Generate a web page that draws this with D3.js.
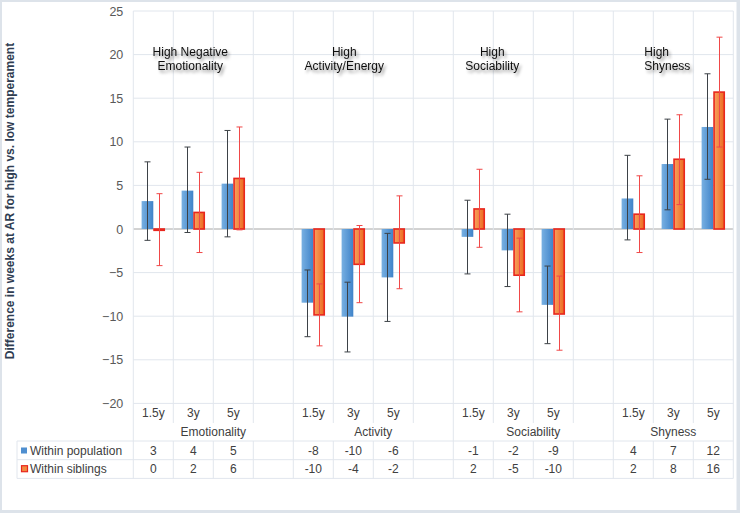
<!DOCTYPE html>
<html>
<head>
<meta charset="utf-8">
<script src="https://cdn.jsdelivr.net/npm/d3@7/dist/d3.min.js"></script>
<style>
  html, body { margin: 0; padding: 0; background: #fff; }
  svg { display: block; font-family: "Liberation Sans", Arial, sans-serif; }
</style>
</head>
<body>
<svg id="chart" width="740" height="513"></svg>
<script>
// ---------------- DATA ----------------
const groups = ["Emotionality", "Activity", "Sociability", "Shyness"];
const ages = ["1.5y", "3y", "5y"];
const yTicks = [-20, -15, -10, -5, 0, 5, 10, 15, 20, 25];
const seriesNames = ["Within population", "Within siblings"];

// bar values
const popValues = [3.2, 4.4, 5.2, -8.45, -10.05, -5.55, -0.9, -2.45, -8.7, 3.5, 7.45, 11.7];
const sibValues = [-0.15, 1.9, 5.8, -9.85, -4.05, -1.6, 2.3, -5.3, -9.75, 1.7, 8.0, 15.7];
// error-bar extents
const popLow  = [-1.3, -0.4, -0.9, -12.35, -14.1, -10.6, -5.15, -6.6, -13.15, -1.25, 2.2, 5.7];
const popHigh = [7.7, 9.4, 11.3, -4.7, -6.1, -0.5, 3.3, 1.7, -4.25, 8.45, 12.6, 17.8];
const sibLow  = [-4.2, -2.7, -0.1, -13.4, -8.45, -6.85, -2.1, -9.5, -13.9, -2.7, 2.8, 9.4];
const sibHigh = [4.05, 6.5, 11.7, -6.3, 0.4, 3.8, 6.85, -1.05, -5.4, 6.1, 13.1, 22.0];
// data-table (rounded) values
const tablePop = [3, 4, 5, -8, -10, -6, -1, -2, -9, 4, 7, 12];
const tableSib = [0, 2, 6, -10, -4, -2, 2, -5, -10, 2, 8, 16];
// annotation labels
const annotations = [
  ["High Negative", "Emotionality"],
  ["High", "Activity/Energy"],
  ["High", "Sociability"],
  ["High", "Shyness"]
];

// ---------------- LAYOUT ----------------
const W = 740, H = 513;
const plotLeft = 133.3, plotRight = 733.3;
const nCols = groups.length * 4 - 1;
const svg = d3.select("#chart");

const x = d3.scaleBand().domain(d3.range(nCols)).range([plotLeft, plotRight]).padding(0);
const y = d3.scaleLinear().domain([-20, 25]).range([403.4, 11]);
const bw = x.bandwidth();
const barW = 11.7;

const colOf = i => Math.floor(i / 3) * 4 + (i % 3);

// defs
const defs = svg.append("defs");
const gb = defs.append("linearGradient").attr("id", "gBlue").attr("x1", 0).attr("x2", 1).attr("y1", 0).attr("y2", 0);
gb.append("stop").attr("offset", "0%").attr("stop-color", "#78b0e2");
gb.append("stop").attr("offset", "100%").attr("stop-color", "#3f83c9");
const go = defs.append("linearGradient").attr("id", "gOrange").attr("x1", 0).attr("x2", 1).attr("y1", 0).attr("y2", 0);
go.append("stop").attr("offset", "0%").attr("stop-color", "#f8a060");
go.append("stop").attr("offset", "100%").attr("stop-color", "#ec6a1e");
const f = defs.append("filter").attr("id", "shadow").attr("x", "-20%").attr("y", "-30%").attr("width", "150%").attr("height", "180%");
f.append("feDropShadow").attr("dx", 2).attr("dy", 2.5).attr("stdDeviation", 1.6)
  .attr("flood-color", "#000").attr("flood-opacity", 0.45);

// frame
svg.append("rect").attr("x", 0).attr("y", 0).attr("width", W).attr("height", H).attr("fill", "#dde3ea");
svg.append("rect").attr("x", 2).attr("y", 2).attr("width", W - 5.5).attr("height", H - 5).attr("fill", "#ffffff");

const gridColor = "#e1e6ed";

// horizontal gridlines
svg.append("g").selectAll("line").data(yTicks).join("line")
  .attr("x1", plotLeft).attr("x2", plotRight)
  .attr("y1", d => y(d)).attr("y2", d => y(d))
  .attr("stroke", d => d === 0 ? "#a6a6a6" : gridColor).attr("stroke-width", 1);

// vertical gridlines (plot + category label row)
const colEdges = d3.range(nCols + 1).map(i => i < nCols ? x(i) : plotRight);
svg.append("g").selectAll("line").data(colEdges).join("line")
  .attr("x1", d => d).attr("x2", d => d)
  .attr("y1", y(25)).attr("y2", 423)
  .attr("stroke", gridColor);

// group boundaries through group-label row
const groupEdges = d3.range(groups.length + 1).map(g => g < groups.length ? x(g * 4) : plotRight);
svg.append("g").selectAll("line").data(groupEdges).join("line")
  .attr("x1", d => d).attr("x2", d => d)
  .attr("y1", 423).attr("y2", 441).attr("stroke", gridColor);

// table lines
const tableTop = 441, rowH = 18.7, tableLeft = 17;
svg.append("g").selectAll("line").data([0, 1, 2]).join("line")
  .attr("x1", tableLeft).attr("x2", plotRight)
  .attr("y1", d => tableTop + d * rowH).attr("y2", d => tableTop + d * rowH)
  .attr("stroke", gridColor);
svg.append("g").selectAll("line").data([tableLeft].concat(colEdges)).join("line")
  .attr("x1", d => d).attr("x2", d => d)
  .attr("y1", tableTop).attr("y2", tableTop + 2 * rowH)
  .attr("stroke", gridColor);

// y axis
const yAxis = d3.axisLeft(y).tickValues(yTicks).tickSize(0).tickPadding(0).tickFormat(d3.format("d"));
const ga = svg.append("g").attr("transform", `translate(${plotLeft - 10},0)`).call(yAxis);
ga.select(".domain").remove();
ga.selectAll("text").attr("font-size", 12.5).attr("fill", "#595959")
  .attr("font-family", "'Liberation Sans', Arial, sans-serif");

// y title
svg.append("text")
  .attr("transform", `translate(14,201) rotate(-90)`)
  .attr("text-anchor", "middle")
  .attr("font-size", 12).attr("font-weight", "bold").attr("fill", "#2f3d52")
  .text("Difference in weeks at AR for high vs. low temperament");

// bars
const idx = d3.range(popValues.length);
svg.append("g").selectAll("rect").data(idx).join("rect")
  .attr("x", i => x(colOf(i)) + bw / 2 - barW)
  .attr("width", barW)
  .attr("y", i => y(Math.max(0, popValues[i])))
  .attr("height", i => Math.abs(y(popValues[i]) - y(0)))
  .attr("fill", "url(#gBlue)");

svg.append("g").selectAll("rect").data(idx).join("rect")
  .attr("x", i => x(colOf(i)) + bw / 2 + 0.75)
  .attr("width", barW - 1.5)
  .attr("y", i => y(Math.max(0, sibValues[i])))
  .attr("height", i => Math.max(0.5, Math.abs(y(sibValues[i]) - y(0))))
  .attr("fill", "url(#gOrange)")
  .attr("stroke", "#e8261d").attr("stroke-width", 1.6);

// error bars
function errorBars(lows, highs, dx, color) {
  const g = svg.append("g").attr("stroke", color).attr("stroke-width", 1).attr("fill", "none");
  idx.forEach(i => {
    const cx = Math.round(x(colOf(i)) + bw / 2 + dx) + 0.5;
    const y1 = y(lows[i]), y2 = y(highs[i]);
    g.append("line").attr("x1", cx).attr("x2", cx).attr("y1", y1).attr("y2", y2);
    g.append("line").attr("x1", cx - 3).attr("x2", cx + 3).attr("y1", y1).attr("y2", y1);
    g.append("line").attr("x1", cx - 3).attr("x2", cx + 3).attr("y1", y2).attr("y2", y2);
  });
}
errorBars(popLow, popHigh, -barW / 2, "#3d4247");
errorBars(sibLow, sibHigh, barW / 2, "#f04848");

// category labels
const labelRow = svg.append("g").attr("font-size", 12).attr("fill", "#404040").attr("text-anchor", "middle");
idx.forEach(i => {
  labelRow.append("text").attr("x", x(colOf(i)) + bw / 2).attr("y", 417).text(ages[i % 3]);
});
groups.forEach((g, gi) => {
  const x0 = x(gi * 4), x1 = gi < groups.length - 1 ? x(gi * 4 + 4) : plotRight;
  labelRow.append("text").attr("x", (x0 + x1) / 2).attr("y", 436).text(g);
});

// table values
const tbl = svg.append("g").attr("font-size", 12).attr("fill", "#404040").attr("text-anchor", "middle");
idx.forEach(i => {
  tbl.append("text").attr("x", x(colOf(i)) + bw / 2).attr("y", tableTop + 13.5).text(tablePop[i]);
  tbl.append("text").attr("x", x(colOf(i)) + bw / 2).attr("y", tableTop + rowH + 13.5).text(tableSib[i]);
});

// legend keys inside table
svg.append("rect").attr("x", 21).attr("y", tableTop + 6.5).attr("width", 6).attr("height", 6).attr("fill", "#4f8fd0");
svg.append("rect").attr("x", 21.5).attr("y", tableTop + rowH + 6).attr("width", 6).attr("height", 6)
  .attr("fill", "#f28a40").attr("stroke", "#e8261d").attr("stroke-width", 1.2);
const lg = svg.append("g").attr("font-size", 12).attr("fill", "#404040");
seriesNames.forEach((s, k) => {
  lg.append("text").attr("x", 30).attr("y", tableTop + k * rowH + 13.5).text(s);
});

// annotations
const annPos = [
  { x: (x(1) + x(2)) / 2 - 3, anchor: "middle" },
  { x: x(5) + 11, anchor: "middle" },
  { x: x(8) + 39, anchor: "middle" },
  { x: x(12) + 31, anchor: "start" }
];
const ann = svg.append("g").attr("font-size", 12).attr("fill", "#111").attr("filter", "url(#shadow)");
annotations.forEach((lines, k) => {
  lines.forEach((t, li) => {
    ann.append("text").attr("x", annPos[k].x).attr("y", y(20) + 1.5 + li * 13.5)
      .attr("text-anchor", annPos[k].anchor).text(t);
  });
});
</script>
</body>
</html>
